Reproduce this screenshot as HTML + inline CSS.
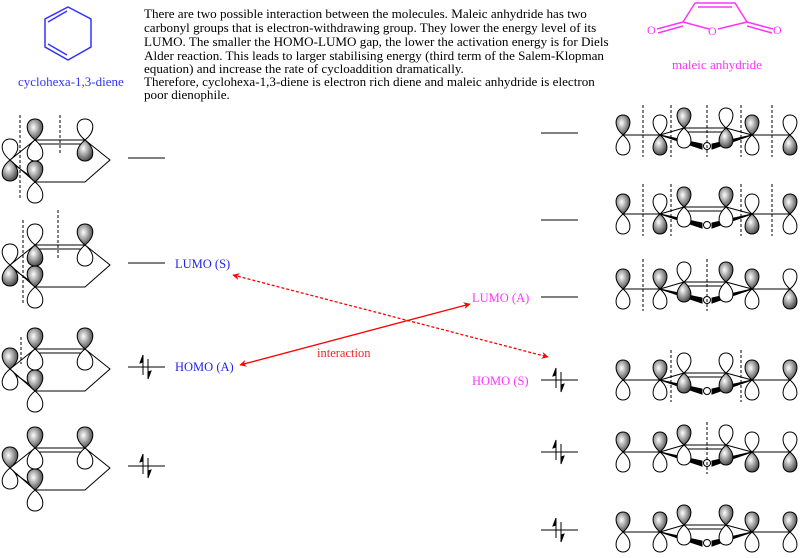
<!DOCTYPE html>
<html><head><meta charset="utf-8"><style>
html,body{margin:0;padding:0;background:#fff;}
svg{display:block;font-family:"Liberation Serif",serif;}
</style></head><body>
<svg id="s" width="800" height="558" viewBox="0 0 800 558" xmlns="http://www.w3.org/2000/svg">
<defs>
<radialGradient id="g" cx="0.4" cy="0.4" r="0.7"><stop offset="0" stop-color="#fff"/><stop offset="0.5" stop-color="#999"/><stop offset="1" stop-color="#333"/></radialGradient>
<marker id="ah" viewBox="0 0 10 10" refX="9" refY="5" markerWidth="9" markerHeight="7" orient="auto-start-reverse" markerUnits="userSpaceOnUse"><path d="M0,0 L10,5 L0,10 L3,5 Z" fill="red"/></marker>
</defs>
<g id="shapes" stroke="#000" fill="none" stroke-width="1"></g>
<g stroke="#3333ff" stroke-width="1.5" fill="none">
<polygon points="68,7 91,19 91,47 68,60 45,47 45,19"/>
<line x1="48" y1="22" x2="67" y2="11"/><line x1="48" y1="44" x2="67" y2="55"/>
</g>
<text x="18" y="86" font-size="13" fill="#3333ff">cyclohexa-1,3-diene</text>
<g stroke="#ff33ff" stroke-width="1.5" fill="none">
<path d="M683,22 L695,3 L735,3 L747,22"/><line x1="698" y1="7" x2="732" y2="7"/>
<line x1="683" y1="22" x2="709" y2="29"/><line x1="747" y1="22" x2="718" y2="29"/>
<line x1="683" y1="22" x2="657" y2="29"/><line x1="683" y1="26" x2="658" y2="33"/>
<line x1="747" y1="22" x2="773" y2="29"/><line x1="747" y1="26" x2="772" y2="33"/>
</g>
<g fill="#ff33ff" font-size="12"><text x="647" y="34">O</text><text x="708" y="35">O</text><text x="773" y="34">O</text></g>
<text x="717" y="69" font-size="13" fill="#ff33ff" text-anchor="middle">maleic anhydride</text>
<g font-size="13.1" fill="#000">
<text x="144" y="18">There are two possible interaction between the molecules. Maleic anhydride has two</text>
<text x="144" y="32">carbonyl groups that is electron-withdrawing group. They lower the energy level of its</text>
<text x="144" y="46">LUMO. The smaller the HOMO-LUMO gap, the lower the activation energy is for Diels</text>
<text x="144" y="60">Alder reaction. This leads to larger stabilising energy (third term of the Salem-Klopman</text>
<text x="144" y="73">equation) and increase the rate of cycloaddition dramatically.</text>
<text x="144" y="86">Therefore, cyclohexa-1,3-diene is electron rich diene and maleic anhydride is electron</text>
<text x="144" y="99">poor dienophile.</text>
</g>
<g font-size="12.5">
<text x="175" y="268" fill="#2222ee">LUMO (S)</text>
<text x="175" y="371" fill="#2222ee">HOMO (A)</text>
<text x="472" y="302" fill="#ff33ff">LUMO (A)</text>
<text x="472" y="385" fill="#ff33ff">HOMO (S)</text>
<text x="317" y="357" fill="#ff2222">interaction</text>
</g>
<line x1="240" y1="365" x2="470" y2="304" stroke="red" stroke-width="1.3" marker-start="url(#ah)" marker-end="url(#ah)"/>
<line x1="233" y1="275" x2="548" y2="357" stroke="red" stroke-width="1.3" stroke-dasharray="3,2" marker-start="url(#ah)" marker-end="url(#ah)"/>
</svg>
<script>
var G=document.getElementById('shapes'),NS='http://www.w3.org/2000/svg';
function el(t,a){var e=document.createElementNS(NS,t);for(var k in a)e.setAttribute(k,a[k]);G.appendChild(e);return e;}
function lobe(x,y,up,sh,h,w){h=h||21;w=w||9;var s=up?-1:1;
 el('path',{d:'M'+x+','+y+' C'+(x-w*1.3)+','+(y+s*h*0.45)+' '+(x-w)+','+(y+s*h)+' '+x+','+(y+s*h)+' C'+(x+w)+','+(y+s*h)+' '+(x+w*1.3)+','+(y+s*h*0.45)+' '+x+','+y+' Z',fill:sh?'url(#g)':'#fff'});}
function orb(x,y,topSh,h,w){lobe(x,y,true,topSh,h,w);lobe(x,y,false,!topSh,h,w);}
function L(x1,y1,x2,y2,o){var a={x1:x1,y1:y1,x2:x2,y2:y2};for(var k in o)a[k]=o[k];el('line',a);}
function D(x,y1,y2){L(x,y1,x,y2,{'stroke-dasharray':'3,2'});}
function pair(x,y){L(x-3,y+8,x-3,y-12);el('path',{d:'M'+(x-3)+','+(y-12)+' L'+(x-6)+','+(y-4)+' L'+(x-3)+','+(y-5)+'Z',fill:'#000'});
 L(x+2,y-8,x+2,y+12);el('path',{d:'M'+(x+2)+','+(y+12)+' L'+(x+5)+','+(y+4)+' L'+(x+2)+','+(y+5)+'Z',fill:'#000'});}
var dien=[[158,[0,1,0,1],[[20,-45,40],[60,-45,-5]]],[263,[0,0,1,1],[[23,-45,40],[58,-55,-5]]],[367,[1,1,1,1],[[21,-32,-5]]],[466,[1,1,1,1],[]]];
dien.forEach(function(d){var c=d[0]+2,s=d[1];
 var LV=[10,c],TL=[35,c-20],TR=[85,c-20],RV=[110,c],BR=[85,c+22],BL=[35,c+22];
 el('polyline',{points:[LV,TL,TR,RV,BR,BL,LV].map(function(p){return p.join(',')}).join(' ')});
 L(37,c-16,83,c-16);L(13,c+4,33,c+18);
 orb(LV[0],LV[1],s[0]);orb(TL[0],TL[1],s[1]);orb(TR[0],TR[1],s[2]);orb(BL[0],BL[1],s[3]);
 d[2].forEach(function(q){D(q[0],c+q[1],c+q[2]);});
 L(128,d[0],165,d[0]);
 if(d[0]>300)pair(146,d[0]);
});
var mal=[[135,[1,0,1,0,1,0],[643,671,707,741,772]],[214,[1,0,1,1,0,1],[643,671,741,772]],[289,[1,1,0,1,1,0],[643,707]],[380,[1,1,0,0,1,1],[671,741]],[452,[1,1,1,0,0,0],[707]],[532,[1,1,1,1,1,1],[]]];
var lv=[133,220,297,380,452,530];
mal.forEach(function(m,i){var c=m[0],s=m[1],xs=[623,660,684,726,752,790],ys=[c,c,c-7,c-7,c,c];
 L(623,c,660,c);L(752,c,790,c);L(660,c,684,c-7);L(726,c-7,752,c);L(684,c-7,726,c-7);L(686,c-3,724,c-3);
 el('polygon',{points:'660,'+c+' 702,'+(c+9)+' 702,'+(c+14),fill:'#000'});
 el('polygon',{points:'752,'+c+' 712,'+(c+9)+' 712,'+(c+14),fill:'#000'});
 el('circle',{cx:707,cy:c+11,r:3.5,fill:'#fff'});
 for(var k=0;k<6;k++)orb(xs[k],ys[k],s[k],20,8);
 m[2].forEach(function(x){D(x,c-30,c+22);});
 L(541,lv[i],578,lv[i]);
 if(i>=3)pair(559,lv[i]);
});
</script>
</body></html>
